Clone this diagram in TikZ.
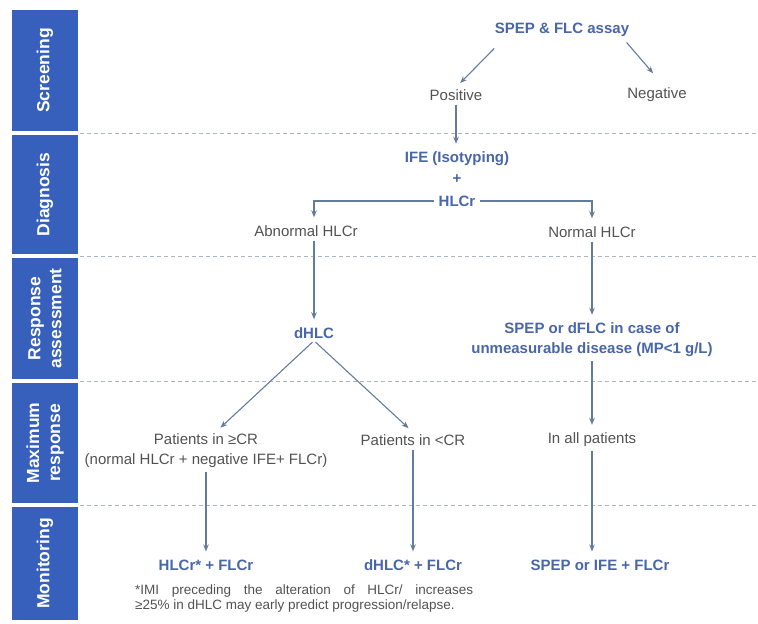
\documentclass[tikz,border=0pt]{standalone}
\usepackage{fontspec}
\setmainfont{Liberation Sans}
\usetikzlibrary{positioning, arrows.meta, calc}
\definecolor{stageblue}{RGB}{54, 96, 188}
\definecolor{testblue}{RGB}{72, 102, 168}
\definecolor{resultgray}{RGB}{82, 82, 82}
\definecolor{arrowgray}{RGB}{100, 124, 156}
\definecolor{sepgray}{RGB}{172, 180, 192}
\tikzset{
    % Node Styles
    stage/.style={
        rectangle, fill=stageblue, rotate=90, minimum height=66pt,
        inner sep=0pt, text=white, align=center,
        font=\bfseries\fontsize{17.5}{21}\selectfont
    },
    test/.style={
        text=testblue, align=center, inner sep=2pt,
        font=\bfseries\fontsize{15}{20}\selectfont
    },
    result/.style={
        text=resultgray, align=center, inner sep=2pt,
        font=\fontsize{15}{20}\selectfont
    },
    note/.style={
        text=resultgray, align=justify, text width=338pt, inner sep=0pt,
        font=\fontsize{13.5}{14.5}\selectfont
    },
    % Arrow Styles
    flow_arrow/.style={-{Stealth[length=7pt, width=5.5pt]}, line width=1.1pt,
        color=arrowgray, shorten <=2pt, shorten >=6pt},
    row_sep/.style={dash pattern=on 4pt off 3pt, line width=0.8pt, color=sepgray}
}

\begin{document}
\begin{tikzpicture}[x=1pt, y=-1pt]
    \useasboundingbox (0,0) rectangle (758,624);

    % --- 1. Stage Sidebar ---
    \node [stage, minimum width=121pt] (screen) at (45,70.5) {Screening};
    \node [stage, minimum width=119pt] (diag) at (45,194.5) {Diagnosis};
    \node [stage, minimum width=121pt] (resp) at (45,318.5) {Response\\assessment};
    \node [stage, minimum width=120pt] (maxr) at (45,443) {Maximum\\response};
    \node [stage, minimum width=113pt] (monit) at (45,563.5) {Monitoring};

    \foreach \ypos in {133,256,381,505}
        \draw [row_sep] (80,\ypos) -- (758,\ypos);

    % --- 2. Screening ---
    \node [test] (spep) at (562,30) {SPEP \& FLC assay};
    \node [result] (pos) at (456,95) {Positive};
    \node [result] (neg) at (657,95) {Negative};

    % --- 3. Diagnosis ---
    \node [test] (ife) at (457,159) {IFE (Isotyping)};
    \node [test] (plus) at (457,179) {+};
    \node [test] (hlcr) at (457,201) {HLCr};
    \node [result] (abn) at (306,231) {Abnormal HLCr};
    \node [result] (nrm) at (592,232) {Normal HLCr};

    % --- 4. Response Assessment ---
    \node [test] (dhlc) at (314,333) {dHLC};
    \node [test] (unm) at (592,340) {SPEP or dFLC in case of\\unmeasurable disease (MP<1 g/L)};

    % --- 5. Maximum Response ---
    \node [result] (gecr) at (206,451) {Patients in ≥CR\\(normal HLCr + negative IFE+ FLCr)};
    \node [result] (ltcr) at (413,440) {Patients in <CR};
    \node [result] (all) at (592,440) {In all patients};

    % --- 6. Monitoring ---
    \node [test] (hlcrfl) at (206,565) {HLCr* + FLCr};
    \node [test] (dhlcfl) at (413,565) {dHLC* + FLCr};
    \node [test] (spepife) at (600,565) {SPEP or IFE + FLCr};
    \node [note, anchor=north west] (foot) at (135,585) {*IMI preceding the alteration of HLCr/ increases\linebreak ≥25\% in dHLC may early predict progression/relapse.};

    % Flow Arrows
    \draw [flow_arrow] ([xshift=3pt,yshift=-8pt]spep.south west) -- (pos.north);
    \draw [flow_arrow] ([xshift=-6pt,yshift=-2pt]spep.south east) -- ([yshift=8pt]neg.north);
    \draw [flow_arrow] (pos) -- (pos |- ife.north);
    \draw [flow_arrow] (hlcr.west) -| (dhlc |- abn.north);
    \draw [flow_arrow] (hlcr.east) -| (nrm.north);
    \draw [flow_arrow] (dhlc |- abn.south) -- (dhlc.north);
    \draw [flow_arrow] (nrm) -- (unm);
    \draw [flow_arrow] (dhlc.south) -- ([xshift=10pt]gecr.north);
    \draw [flow_arrow] (dhlc.south) -- (ltcr.north);
    \draw [flow_arrow] (unm) -- (all);
    \draw [flow_arrow] (gecr) -- (hlcrfl);
    \draw [flow_arrow] (ltcr) -- (dhlcfl);
    \draw [flow_arrow] (all) -- (all |- spepife.north);

\end{tikzpicture}
\end{document}
